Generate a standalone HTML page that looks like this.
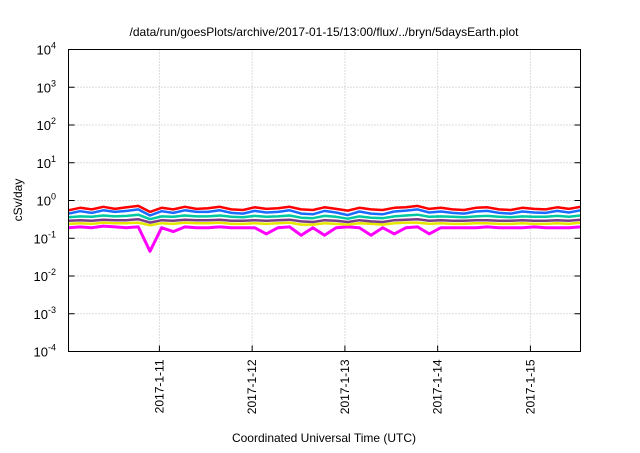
<!DOCTYPE html>
<html><head><meta charset="utf-8"><style>
body{margin:0;background:#fff}
svg text{font-family:"Liberation Sans",sans-serif;fill:#000}
</style></head><body>
<svg width="640" height="448" xmlns="http://www.w3.org/2000/svg">
<g id="grid"></g>
<g id="series"></g>
<rect x="68.5" y="49.5" width="512" height="302" fill="none" stroke="#000" stroke-width="1"/>
<g id="axes"></g>
<text x="324" y="36" font-size="12" text-anchor="middle">/data/run/goesPlots/archive/2017-01-15/13:00/flux/../bryn/5daysEarth.plot</text>
<text x="324" y="442" font-size="12" text-anchor="middle">Coordinated Universal Time (UTC)</text>
<text transform="translate(22,200) rotate(-90)" font-size="12" text-anchor="middle">cSv/day</text>
</svg>
<script>
const yExponents=[4,3,2,1,0,-1,-2,-3,-4];
const xTickLabels=["2017-1-11","2017-1-12","2017-1-13","2017-1-14","2017-1-15"];
const xTickDays=[11,12,13,14,15];
const red=[0.55,0.64,0.58,0.68,0.6,0.66,0.72,0.5,0.64,0.58,0.68,0.6,0.62,0.68,0.58,0.56,0.66,0.6,0.62,0.68,0.58,0.56,0.66,0.6,0.54,0.64,0.58,0.56,0.64,0.66,0.72,0.6,0.64,0.58,0.56,0.64,0.66,0.58,0.56,0.64,0.6,0.58,0.66,0.6,0.68];
const blue=[0.45,0.52,0.47,0.55,0.5,0.53,0.58,0.4,0.52,0.47,0.55,0.5,0.5,0.55,0.47,0.45,0.53,0.48,0.5,0.55,0.45,0.43,0.53,0.48,0.41,0.51,0.45,0.43,0.51,0.54,0.58,0.48,0.51,0.47,0.45,0.51,0.53,0.47,0.45,0.51,0.48,0.47,0.53,0.48,0.55];
const cyan=[0.36,0.38,0.37,0.4,0.38,0.39,0.42,0.32,0.38,0.37,0.4,0.38,0.38,0.4,0.37,0.36,0.39,0.37,0.38,0.4,0.35,0.34,0.39,0.37,0.33,0.38,0.35,0.34,0.38,0.4,0.42,0.37,0.38,0.37,0.36,0.38,0.39,0.37,0.36,0.38,0.37,0.37,0.39,0.37,0.4];
const purple=[0.29,0.3,0.29,0.31,0.3,0.3,0.32,0.26,0.3,0.29,0.31,0.3,0.3,0.31,0.29,0.29,0.3,0.29,0.3,0.31,0.28,0.27,0.3,0.29,0.27,0.3,0.28,0.27,0.3,0.31,0.32,0.29,0.3,0.29,0.29,0.3,0.3,0.29,0.29,0.3,0.29,0.29,0.3,0.29,0.31];
const yellow=[0.24,0.25,0.24,0.26,0.25,0.25,0.26,0.22,0.25,0.24,0.26,0.25,0.25,0.26,0.24,0.24,0.25,0.24,0.25,0.26,0.23,0.23,0.25,0.24,0.23,0.25,0.24,0.23,0.25,0.26,0.26,0.24,0.25,0.24,0.24,0.25,0.25,0.24,0.24,0.25,0.24,0.24,0.25,0.24,0.26];
const magenta=[0.19,0.2,0.19,0.21,0.2,0.19,0.2,0.045,0.19,0.15,0.2,0.19,0.19,0.2,0.19,0.19,0.19,0.13,0.19,0.2,0.12,0.19,0.12,0.19,0.2,0.19,0.12,0.19,0.13,0.19,0.2,0.13,0.19,0.19,0.19,0.19,0.2,0.19,0.19,0.19,0.2,0.19,0.19,0.19,0.2];
const startDay=10.02, endDay=15.54;
const X0=68.5,X1=580.5,Y0=49.5,Y1=351.5;
const NS="http://www.w3.org/2000/svg";
function xDay(d){return X0+(d-startDay)/(endDay-startDay)*(X1-X0);}
function xIdx(i,n){return X0+i/(n-1)*(X1-X0);}
function yVal(v){return Y0+(4-Math.log10(v))/8*(Y1-Y0);}
function mk(tag,attrs,parent){const e=document.createElementNS(NS,tag);for(const k in attrs)e.setAttribute(k,attrs[k]);parent.appendChild(e);return e;}
const grid=document.getElementById('grid'),axes=document.getElementById('axes'),ser=document.getElementById('series');
yExponents.forEach(p=>{
 const y=yVal(Math.pow(10,p));
 if(p<4&&p>-4){const g=mk('line',{x1:X0,x2:X1,y1:y,y2:y,stroke:'#bbb','stroke-dasharray':'1,2'},grid);
 }
 const t=mk('line',{x1:X0,x2:X0+6,y1:y,y2:y,stroke:'#000'},axes);
 
 const t2=mk('line',{x1:X1,x2:X1-6,y1:y,y2:y,stroke:'#000'},axes);
 
 const tx=mk('text',{x:56,y:y+5,'font-size':'13','text-anchor':'end'},axes);
 
 tx.textContent='10';const s=mk('tspan',{dy:'-6','font-size':'9'},tx);s.textContent=String(p);
});
xTickDays.forEach((d,i)=>{
 const x=xDay(d);
 const g=mk('line',{x1:x,x2:x,y1:Y0,y2:Y1,stroke:'#bbb','stroke-dasharray':'1,2'},grid);
 
 const t=mk('line',{x1:x,x2:x,y1:Y1,y2:Y1-6,stroke:'#000'},axes);
 
 const tx=mk('text',{transform:`translate(${x+4},${Y1+8}) rotate(-90)`,'font-size':'12','text-anchor':'end'},axes);
 
 tx.textContent=xTickLabels[i];
});
[[magenta,'#ff00ff','magenta-series'],[yellow,'#e6e600','yellow-series'],[purple,'#7a3a8a','purple-series'],[cyan,'#00c8a0','cyan-series'],[red,'#ff0000','red-series'],[blue,'#1a6cff','blue-series']].forEach(([arr,c,n])=>{
 const pts=arr.map((v,i)=>xIdx(i,arr.length).toFixed(1)+','+yVal(v).toFixed(1)).join(' ');
 const pl=mk('polyline',{points:pts,fill:'none',stroke:c,'stroke-width':n==='magenta-series'?3:2.5,'stroke-linejoin':'round'},ser);
 
});
</script>
</body></html>
